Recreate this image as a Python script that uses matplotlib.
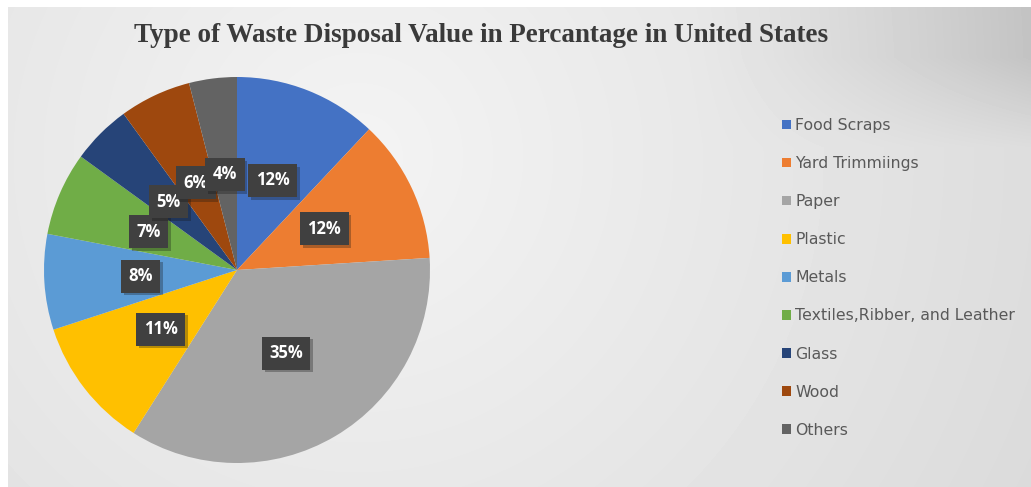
import numpy as np
import matplotlib
matplotlib.use('Agg')
import matplotlib.pyplot as plt
import matplotlib.patheffects as pe
from matplotlib.patches import Patch

categories = ['Food Scraps', 'Yard Trimmiings', 'Paper', 'Plastic', 'Metals',
              'Textiles,Ribber, and Leather', 'Glass', 'Wood', 'Others']
values = [12, 12, 35, 11, 8, 7, 5, 6, 4]
colors = ['#4472C4', '#ED7D31', '#A5A5A5', '#FFC000', '#5B9BD5',
          '#70AD47', '#264478', '#9E480E', '#636363']
title = 'Type of Waste Disposal Value in Percantage in United States'

W, H = 1031, 487
fig = plt.figure(figsize=(W / 100, H / 100), dpi=100)
fig.patch.set_facecolor('white')

# gradient background (chart area, white margin at left/top)
bg = fig.add_axes([8 / W, 0, 1 - 8 / W, 1 - 7 / H])
bg.set_axis_off()
yy, xx = np.mgrid[0:480, 0:1023]
d = np.hypot(xx - 350, yy - 150)
shade = 0.955 - 0.00013 * d
# darker area towards the top right corner
band = np.clip((xx - 680) / 340, 0, 1) ** 1.3 * np.clip((140 - yy) / 90, 0, 1)
shade = np.clip(shade - 0.1 * band, 0, 1)
bg.imshow(shade, cmap='gray', vmin=0, vmax=1, aspect='auto',
          extent=[0, 1, 0, 1], interpolation='bilinear')

fig.text(481 / W, 1 - 36 / H, title, ha='center', va='center',
         fontsize=19.5, fontweight='bold', family='Liberation Serif',
         color='#3a3a3a')

# pie
r = 193
cx, cy = 237, 270
ax = fig.add_axes([(cx - r) / W, (H - cy - r) / H, 2 * r / W, 2 * r / H])
wedges, texts, autotexts = ax.pie(
    values, colors=colors, startangle=90, counterclock=False,
    autopct='%1.0f%%', pctdistance=0.5, radius=1.0,
    wedgeprops=dict(linewidth=0))
for t in autotexts:
    t.set_color('white')
    t.set_fontsize(12)
    t.set_fontweight('bold')
    t.set_family('Open Sans')
    t.set_bbox(dict(boxstyle='square,pad=0.45', facecolor='#404040',
                    edgecolor='none'))
    t.get_bbox_patch().set_path_effects(
        [pe.SimplePatchShadow(offset=(2, -2), alpha=0.3), pe.Normal()])
ax.set_xlim(-1, 1)
ax.set_ylim(-1, 1)

handles = [Patch(facecolor=c, edgecolor='none') for c in colors]
leg = fig.legend(handles, categories, loc='upper left',
                 bbox_to_anchor=(768 / W, 1 - 104 / H), frameon=False,
                 handlelength=0.55, handleheight=0.55, handletextpad=0.3,
                 labelspacing=1.47, prop=dict(family='DejaVu Sans', size=11.3))
for t in leg.get_texts():
    t.set_color('#595959')

fig.savefig('out.png', dpi=100, facecolor=fig.get_facecolor())
